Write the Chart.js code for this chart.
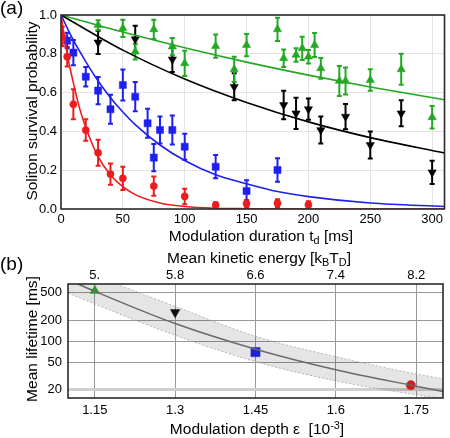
<!DOCTYPE html>
<html>
<head>
<meta charset="utf-8">
<script src="https://cdn.jsdelivr.net/npm/chart.js@4.4.1/dist/chart.umd.min.js"></script>
<style>
  body { margin: 0; background: #fff; }
  #wrap { position: relative; width: 450px; height: 438px; overflow: hidden;
          font-family: "Liberation Sans", Arial, sans-serif; color: #000; }
  canvas { position: absolute; left: 0; }
  .lbl { position: absolute; white-space: nowrap; text-align: center; line-height: 18px; font-size: 15.5px; }
  .lbl sub { font-size: 70%; vertical-align: -0.3em; line-height: 0; }
  .lbl sup { font-size: 70%; vertical-align: 0.5em; line-height: 0; }
  .panel { position: absolute; font-size: 19px; line-height: 22px; }
</style>
</head>
<body>
<div id="wrap">
  <canvas id="chartA" width="450" height="250" style="top:0"></canvas>
  <canvas id="chartB" width="450" height="188" style="top:250px"></canvas>
  <div class="panel" style="left:0;top:-3px">(a)</div>
  <div class="panel" style="left:0;top:253px">(b)</div>
  <div class="lbl" style="left:-68px;top:102px;width:200px;transform:rotate(-90deg)">Soliton survival probability</div>
  <div class="lbl" style="left:111px;top:227px;width:300px">Modulation duration t<sub>d</sub> [ms]</div>
  <div class="lbl" style="left:109px;top:249px;width:300px">Mean kinetic energy [k<sub>B</sub>T<sub>D</sub>]</div>
  <div class="lbl" style="left:-68px;top:330px;width:200px;transform:rotate(-90deg)">Mean lifetime [ms]</div>
  <div class="lbl" style="left:107px;top:420px;width:300px">Modulation depth ε&nbsp; [10<sup>-3</sup>]</div>
</div>
<script>
// ---- panel (a): survival probability vs modulation duration ----
const durTicks = [0, 50, 100, 150, 200, 250, 300];
const probTicks = [0, 0.2, 0.4, 0.6, 0.8, 1.0];

const redT = [1, 5, 10, 20, 30, 40, 50, 75, 100, 125, 150, 175, 200];
const redP = [0.89, 0.785, 0.54, 0.407, 0.29, 0.18, 0.158, 0.118, 0.065, 0.02, 0.028, 0.03, 0.022];
const redErr = [0.05, 0.05, 0.077, 0.055, 0.067, 0.055, 0.06, 0.05, 0.04, 0.015, 0.018, 0.02, 0.018];

const blueT = [5, 10, 20, 30, 40, 50, 60, 70, 75, 80, 90, 100, 125, 150, 175];
const blueP = [0.868, 0.806, 0.682, 0.61, 0.514, 0.639, 0.579, 0.442, 0.265, 0.407, 0.407, 0.321, 0.218, 0.093, 0.201];
const blueErr = [0.04, 0.065, 0.05, 0.07, 0.075, 0.08, 0.075, 0.075, 0.07, 0.07, 0.075, 0.067, 0.06, 0.055, 0.06];

const blackT = [30, 60, 90, 140, 180, 190, 200, 210, 230, 250, 275, 300];
const blackP = [0.859, 0.875, 0.771, 0.63, 0.536, 0.493, 0.515, 0.407, 0.476, 0.33, 0.493, 0.189];
const blackErr = [0.06, 0.07, 0.065, 0.07, 0.073, 0.08, 0.055, 0.07, 0.065, 0.07, 0.067, 0.06];

const greenT = [30, 50, 60, 75, 90, 100, 125, 140, 150, 175, 180, 190, 195, 200, 205, 210, 225, 230, 250, 275, 300];
const greenP = [0.948, 0.931, 0.811, 0.926, 0.837, 0.751, 0.84, 0.72, 0.845, 0.926, 0.777, 0.794, 0.828, 0.785, 0.845, 0.725, 0.66, 0.66, 0.665, 0.72, 0.473];
const greenErr = [0.025, 0.045, 0.04, 0.05, 0.045, 0.065, 0.06, 0.065, 0.057, 0.06, 0.045, 0.035, 0.06, 0.035, 0.062, 0.053, 0.077, 0.07, 0.055, 0.08, 0.058];

// fitted decay curves
const redFitT = [0, 5, 10, 15, 20, 30, 40, 50, 60, 80, 100, 125, 150, 200, 310];
const redFit = [1, 0.80, 0.65, 0.52, 0.42, 0.27, 0.175, 0.115, 0.074, 0.031, 0.013, 0.004, 0.0015, 0, 0];
const blueFitT = [0, 10, 20, 30, 40, 50, 60, 80, 100, 125, 150, 175, 200, 250, 310];
const blueFit = [1, 0.87, 0.76, 0.66, 0.574, 0.50, 0.435, 0.33, 0.25, 0.176, 0.13, 0.09, 0.064, 0.031, 0.013];
const blackFitT = [0, 50, 100, 150, 200, 250, 310];
const blackFit = [1, 0.819, 0.67, 0.549, 0.449, 0.368, 0.289];
const greenFitT = [0, 50, 100, 150, 200, 250, 310];
const greenFit = [1, 0.912, 0.831, 0.757, 0.69, 0.629, 0.563];

// ---- panel (b): mean lifetime vs modulation depth ----
const depthTicks = [1.15, 1.3, 1.45, 1.6, 1.75];
const energyTicks = [5.0, 5.8, 6.6, 7.4, 8.2];
const energyLabels = ['5.', '5.8', '6.6', '7.4', '8.2'];
const lifeTicks = [20, 50, 100, 200, 500];

const lifeDepth = [1.15, 1.3, 1.45, 1.74];
const lifeValue = [535, 261, 70, 23.4];

const curveDepth = [1.1, 1.15, 1.3, 1.45, 1.6, 1.75, 1.8];
const curveMid = [775, 524, 180, 77, 39, 22.6, 19];
const curveUpper = [1200, 870, 318, 118, 60, 34, 29];
const curveLower = [495, 344, 122, 51, 27, 17, 15];

const RED = '#ec1c1c', BLUE = '#1f1ff0', BLACK = '#000000', GREEN = '#22a822';

Chart.defaults.font.family = '"Liberation Sans", Arial, sans-serif';
Chart.defaults.font.size = 13;
Chart.defaults.color = '#000';

const pts = (xs, ys) => xs.map((x, i) => ({ x: x, y: ys[i] }));

const frame = {
  id: 'frame',
  afterDatasetsDraw(chart) {
    const { ctx, chartArea: a } = chart;
    ctx.save();
    ctx.strokeStyle = '#2a2a2a';
    ctx.lineWidth = 1.6;
    ctx.strokeRect(a.left, a.top, a.right - a.left, a.bottom - a.top);
    ctx.restore();
  }
};

const errorBars = {
  id: 'errorBars',
  beforeDatasetsDraw(chart) {
    const { ctx, chartArea: a, scales: { x, y } } = chart;
    ctx.save();
    ctx.beginPath();
    ctx.rect(a.left, a.top, a.right - a.left, a.bottom - a.top);
    ctx.clip();
    chart.data.datasets.forEach(ds => {
      if (!ds.errorBars) return;
      ctx.strokeStyle = ds.borderColor;
      ctx.lineWidth = 2;
      ds.data.forEach((p, i) => {
        const px = x.getPixelForValue(p.x);
        const y1 = y.getPixelForValue(p.y + ds.errorBars[i]);
        const y2 = y.getPixelForValue(p.y - ds.errorBars[i]);
        ctx.beginPath();
        ctx.moveTo(px, y1); ctx.lineTo(px, y2);
        ctx.moveTo(px - 2.5, y1); ctx.lineTo(px + 2.5, y1);
        ctx.moveTo(px - 2.5, y2); ctx.lineTo(px + 2.5, y2);
        ctx.stroke();
      });
    });
    ctx.restore();
  }
};

const fitLine = (xs, ys, color) => ({
  data: pts(xs, ys), showLine: true, pointRadius: 0, borderColor: color,
  borderWidth: 1.6, cubicInterpolationMode: 'monotone', fill: false
});
const markers = (xs, ys, err, color, style, radius, rotation) => ({
  data: pts(xs, ys), errorBars: err, showLine: false, pointStyle: style,
  pointRadius: radius, pointRotation: rotation || 0,
  backgroundColor: color, borderColor: color, pointBorderWidth: 0.5
});

new Chart(document.getElementById('chartA'), {
  type: 'scatter',
  data: {
    datasets: [
      fitLine(redFitT, redFit, RED),
      fitLine(blueFitT, blueFit, BLUE),
      fitLine(blackFitT, blackFit, BLACK),
      fitLine(greenFitT, greenFit, GREEN),
      markers(redT, redP, redErr, RED, 'circle', 3.6),
      markers(blueT, blueP, blueErr, BLUE, 'rect', 5),
      markers(blackT, blackP, blackErr, BLACK, 'triangle', 4.8, 180),
      markers(greenT, greenP, greenErr, GREEN, 'triangle', 4.8)
    ]
  },
  options: {
    responsive: false,
    animation: false,
    layout: { padding: { top: 15, right: 1, left: 0, bottom: 0 } },
    plugins: { legend: { display: false }, tooltip: { enabled: false } },
    scales: {
      x: {
        type: 'linear', min: 0, max: 310,
        afterBuildTicks: axis => { axis.ticks = durTicks.map(v => ({ value: v })); },
        afterFit: axis => { axis.height = 41; },
        ticks: { padding: 3, callback: v => String(v) },
        grid: { color: '#e4e4e4', drawTicks: false },
        border: { display: false }
      },
      y: {
        min: 0, max: 1,
        afterBuildTicks: axis => { axis.ticks = probTicks.map(v => ({ value: v })); },
        afterFit: axis => { axis.width = 61; },
        ticks: { padding: 4, callback: v => v.toFixed(1) },
        grid: { color: '#e4e4e4', drawTicks: false },
        border: { display: false }
      }
    }
  },
  plugins: [errorBars, frame]
});

const bandLine = (ys, fill) => ({
  data: pts(curveDepth, ys), showLine: true, pointRadius: 0,
  borderColor: '#a8a8a8', borderWidth: 0.8, borderDash: [2, 2],
  cubicInterpolationMode: 'monotone', fill: fill, backgroundColor: 'rgba(0,0,0,0.1)'
});
const lifePoint = (i, color, style, radius, rotation) => ({
  data: [{ x: lifeDepth[i], y: lifeValue[i] }], showLine: false, pointStyle: style,
  pointRadius: radius, pointRotation: rotation || 0,
  backgroundColor: color, borderColor: color, pointBorderWidth: 0.5
});

new Chart(document.getElementById('chartB'), {
  type: 'scatter',
  data: {
    datasets: [
      bandLine(curveUpper, 1),
      bandLine(curveLower, false),
      {
        data: pts(curveDepth, curveMid), showLine: true, pointRadius: 0,
        borderColor: '#777', borderWidth: 1.5, cubicInterpolationMode: 'monotone', fill: false
      },
      lifePoint(0, '#33aa33', 'triangle', 5.5),
      lifePoint(1, '#111', 'triangle', 5.5, 180),
      lifePoint(2, '#2424ee', 'rect', 6.5),
      lifePoint(3, '#e82020', 'circle', 4.6)
    ]
  },
  options: {
    responsive: false,
    animation: false,
    layout: { padding: { top: 0, right: 1, left: 0, bottom: 0 } },
    plugins: { legend: { display: false }, tooltip: { enabled: false } },
    scales: {
      x: {
        type: 'linear', min: 1.1, max: 1.8,
        afterBuildTicks: axis => { axis.ticks = depthTicks.map(v => ({ value: v })); },
        afterFit: axis => { axis.height = 40; },
        ticks: { padding: 5, callback: v => String(v) },
        grid: { color: '#999', drawTicks: false },
        border: { display: false }
      },
      x2: {
        type: 'linear', axis: 'x', position: 'top', min: 4.7333, max: 8.4667,
        afterBuildTicks: axis => { axis.ticks = energyTicks.map(v => ({ value: v })); },
        afterFit: axis => { axis.height = 34; },
        ticks: { padding: 1, callback: (v, i) => energyLabels[i] },
        grid: { display: false, drawTicks: false },
        border: { display: false }
      },
      y: {
        type: 'logarithmic', min: 15.3, max: 667,
        afterBuildTicks: axis => { axis.ticks = lifeTicks.map(v => ({ value: v })); },
        afterFit: axis => { axis.width = 68; },
        ticks: { padding: 6, callback: v => String(v) },
        grid: {
          drawTicks: false,
          color: c => (c.tick && c.tick.value === 20 ? '#cfcfcf' : '#999'),
          lineWidth: c => (c.tick && c.tick.value === 20 ? 3 : 1)
        },
        border: { display: false }
      }
    }
  },
  plugins: [frame]
});
</script>
</body>
</html>
